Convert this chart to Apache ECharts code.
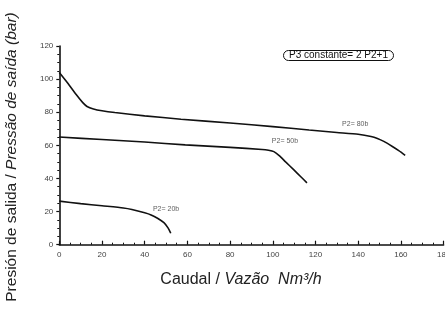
<!DOCTYPE html>
<html><head><meta charset="utf-8">
<script src="https://cdn.jsdelivr.net/npm/echarts@6/dist/echarts.min.js"></script>
<style>html,body{margin:0;padding:0;background:#fff}#c{width:445px;height:309px}</style>
</head><body><div id="c"></div>
<script>
// Data
var x80 = [0, 4, 8, 11, 13, 16, 20, 26, 40, 57, 80, 100, 117, 130, 140, 146, 149, 152, 156, 159, 162];
var y80 = [104, 97.5, 90.5, 85.8, 83.5, 82, 80.9, 79.8, 77.8, 75.8, 73.5, 71.3, 69.3, 67.8, 66.7, 65.4, 64.2, 62.4, 59.3, 56.8, 54];
var x50 = [0, 20, 40, 59, 80, 95, 98, 100.5, 103, 106, 110, 113, 116];
var y50 = [65, 63.5, 62, 60.3, 58.8, 57.5, 57, 56.2, 53.8, 50, 45, 41.2, 37.3];
var x20 = [0, 10, 20, 30, 34, 40, 43, 46, 49, 51, 52.2];
var y20 = [26.3, 24.8, 23.5, 22.2, 21.3, 19.3, 18, 16, 13.3, 10, 6.9];
var curveLabels = ['P2= 80b', 'P2= 50b', 'P2= 20b'];
var labelX = [138.6, 105.7, 50];
var labelY = [73.1, 62.7, 21.3];
var xTicks = [0, 20, 40, 60, 80, 100, 120, 140, 160, 180];
var yTicks = [0, 20, 40, 60, 80, 100, 120];

function zip(a, b) { return a.map(function (v, i) { return [v, b[i]]; }); }
var chart = echarts.init(document.getElementById('c'), null, {renderer: 'canvas'});
var FONT = 'Liberation Sans, Arial, sans-serif';
var lineSty = {color: '#111', width: 1.6};
function curve(x, y) {
  return {type: 'line', data: zip(x, y), smooth: 0.2, showSymbol: false, symbol: 'none',
    lineStyle: lineSty, itemStyle: {color: '#111'}, z: 3, animation: false};
}
chart.setOption({
  animation: false,
  grid: {left: 59.3, right: 1.4, top: 46, bottom: 64.3, containLabel: false, outerBoundsMode: 'none'},
  xAxis: {
    type: 'value', min: xTicks[0], max: xTicks[xTicks.length - 1], interval: 20,
    axisLine: {show: true, lineStyle: {color: '#111', width: 1.6}},
    axisTick: {show: true, inside: true, length: 4, lineStyle: {color: '#111', width: 1.2}},
    minorTick: {show: true, splitNumber: 4, length: 2, lineStyle: {color: '#111', width: 1}},
    axisLabel: {color: '#444', fontSize: 8, fontFamily: FONT, margin: 6, hideOverlap: false},
    splitLine: {show: false}
  },
  yAxis: {
    type: 'value', min: yTicks[0], max: yTicks[yTicks.length - 1], interval: 20,
    axisLine: {show: true, lineStyle: {color: '#111', width: 1.6}},
    axisTick: {show: true, inside: false, length: 3, lineStyle: {color: '#111', width: 1.2}},
    minorTick: {show: true, splitNumber: 4, length: 2, lineStyle: {color: '#111', width: 1}},
    axisLabel: {color: '#444', fontSize: 8, fontFamily: FONT, margin: 6},
    splitLine: {show: false}
  },
  title: {
    text: 'P3 constante= 2 P2+1', left: 283, top: 51,
    borderColor: '#111', borderWidth: 1, borderRadius: 5, padding: [0, 6, 0, 6],
    textStyle: {fontSize: 10, fontWeight: 'normal', color: '#111', fontFamily: FONT, lineHeight: 9}
  },
  graphic: [
    {type: 'text', x: 241, y: 280, style: {
      text: '{n|Caudal / }{i|Vazão  Nm³/h}', align: 'center', verticalAlign: 'middle',
      rich: {n: {fontSize: 16, fontFamily: FONT, fill: '#222'}, i: {fontSize: 16, fontStyle: 'italic', fontFamily: FONT, fill: '#222'}}
    }},
    {type: 'text', x: 12, y: 157, rotation: Math.PI / 2, style: {
      text: '{n|Presión de salida / }{i|Pressão de saída (bar)}', align: 'center', verticalAlign: 'middle',
      rich: {n: {fontSize: 15.5, fontFamily: FONT, fill: '#222'}, i: {fontSize: 15.5, fontStyle: 'italic', fontFamily: FONT, fill: '#222'}}
    }}
  ],
  series: [
    curve(x80, y80), curve(x50, y50), curve(x20, y20),
    {type: 'scatter', symbolSize: 0, z: 4, animation: false,
      data: curveLabels.map(function (n, i) { return {name: n, value: [labelX[i], labelY[i]]}; }),
      label: {show: true, position: 'inside', formatter: '{b}', fontSize: 7, color: '#333', fontFamily: FONT}}
  ]
});
</script></body></html>
